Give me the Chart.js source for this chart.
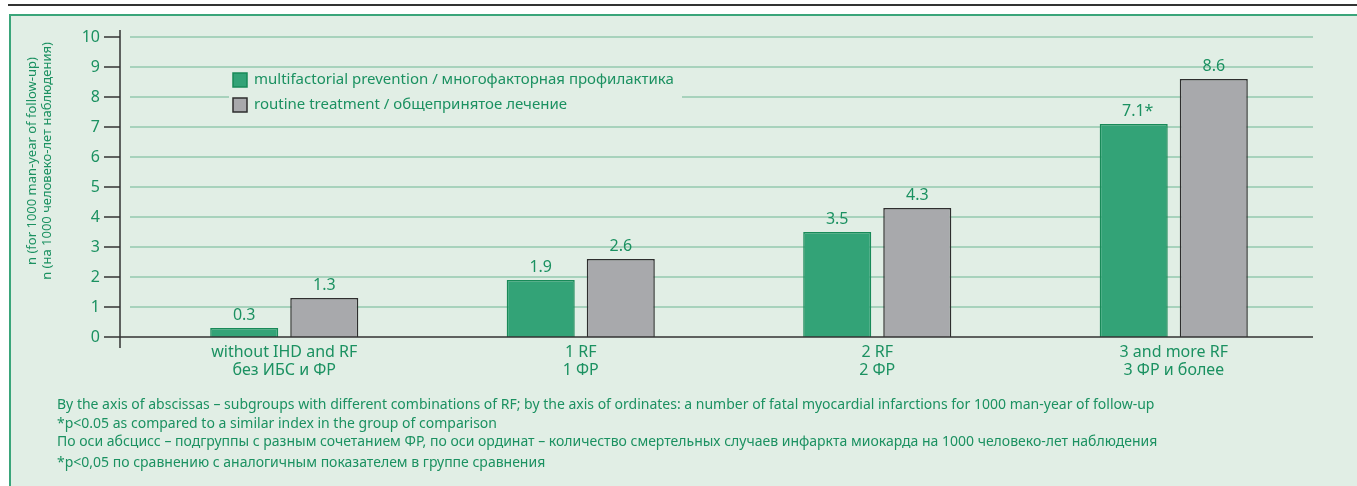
<!DOCTYPE html>
<html>
<head>
<meta charset="utf-8">
<style>
body { margin:0; width:1357px; height:486px; overflow:hidden; background:#fff; font-family:'Noto Sans', sans-serif; }
.topline { position:absolute; left:8px; top:4px; width:1349px; height:2px; background:#333; }
.panel { position:absolute; left:9px; top:14px; width:1360px; height:480px; background:#e1eee5; border-left:2px solid #3aa57a; border-top:2px solid #3aa57a; }
.chart-container { position:absolute; left:0; top:0; width:1357px; height:486px; }
.note { position:absolute; left:57px; color:#1b9161; font-size:14px; line-height:18px; white-space:nowrap; }
</style>
</head>
<body>
<div class="topline"></div>
<div class="panel"></div>
<div class="chart-container">
  <canvas id="myChart" width="1357" height="486"></canvas>
</div>
<div class="note" style="top:395px">By the axis of abscissas – subgroups with different combinations of RF; by the axis of ordinates: a number of fatal myocardial infarctions for 1000 man-year of follow-up</div>
<div class="note" style="top:414px">*p&lt;0.05 as compared to a similar index in the group of comparison</div>
<div class="note" style="top:432px">По оси абсцисс – подгруппы с разным сочетанием ФР, по оси ординат – количество смертельных случаев инфаркта миокарда на 1000 человеко-лет наблюдения</div>
<div class="note" style="top:453px">*p&lt;0,05 по сравнению с аналогичным показателем в группе сравнения</div>

<script src="https://cdn.jsdelivr.net/npm/chart.js@4.4.1/dist/chart.umd.min.js"></script>
<script>
/* datas */
const categories = [
  ['without IHD and RF', 'без ИБС и ФР'],
  ['1 RF', '1 ФР'],
  ['2 RF', '2 ФР'],
  ['3 and more RF', '3 ФР и более']
];
const seriesNames = ['multifactorial prevention / многофакторная профилактика', 'routine treatment / общепринятое лечение'];
const preventionValues = [0.3, 1.9, 3.5, 7.1];
const routineValues = [1.3, 2.6, 4.3, 8.6];
const preventionMarks = ['', '', '', '*'];
const routineMarks = ['', '', '', ''];
const yTitle = ['n (for 1000 man-year of follow-up)', 'n (на 1000 человеко-лет наблюдения)'];
const yMin = 0, yMax = 10, yStep = 1;

const textGreen = '#1b9161';
const gridGreen = '#93c9ae';
const panelBg = '#e1eee5';
const axisColor = '#333333';
const fontFamily = "'Noto Sans', sans-serif";

/* gridlines, axes, legend, value labels */
const decor = {
  id: 'decor',
  beforeDatasetsDraw(chart) {
    const { ctx, scales: { y } } = chart;
    ctx.save();
    ctx.strokeStyle = gridGreen;
    ctx.lineWidth = 1.5;
    for (let v = yMin + yStep; v <= yMax; v += yStep) {
      const py = y.getPixelForValue(v);
      ctx.beginPath();
      ctx.moveTo(130, py);
      ctx.lineTo(1313, py);
      ctx.stroke();
    }
    ctx.restore();
  },
  afterDatasetsDraw(chart) {
    const { ctx, scales: { y } } = chart;
    ctx.save();
    // axes
    ctx.strokeStyle = axisColor;
    ctx.lineWidth = 1.5;
    const y0 = y.getPixelForValue(0);
    ctx.beginPath();
    ctx.moveTo(120, y.getPixelForValue(yMax) - 7);
    ctx.lineTo(120, y0 + 11);
    ctx.moveTo(120, y0);
    ctx.lineTo(1313, y0);
    for (let v = yMin; v <= yMax; v += yStep) {
      const py = y.getPixelForValue(v);
      ctx.moveTo(104, py);
      ctx.lineTo(120, py);
    }
    ctx.stroke();

    // value labels above bars
    ctx.fillStyle = textGreen;
    ctx.font = '16px ' + fontFamily;
    ctx.textAlign = 'center';
    ctx.textBaseline = 'middle';
    const marks = [preventionMarks, routineMarks];
    chart.data.datasets.forEach((ds, di) => {
      chart.getDatasetMeta(di).data.forEach((bar, i) => {
        ctx.fillText(ds.data[i].toFixed(1) + marks[di][i], bar.x + (marks[di][i] ? 4 : 0), bar.y - 13);
      });
    });

    // legend
    ctx.fillStyle = panelBg;
    ctx.fillRect(229, 72, 453, 42);
    ctx.font = '15px ' + fontFamily;
    ctx.textAlign = 'left';
    chart.data.datasets.forEach((ds, di) => {
      const ty = 80 + di * 25;
      ctx.fillStyle = ds.backgroundColor;
      ctx.fillRect(233, ty - 7, 14, 14);
      ctx.strokeStyle = ds.borderColor;
      ctx.lineWidth = 1.5;
      ctx.strokeRect(233, ty - 7, 14, 14);
      ctx.fillStyle = textGreen;
      ctx.fillText(ds.label, 254, ty);
    });

    // y title
    ctx.font = '13px ' + fontFamily;
    ctx.translate(0, 161);
    ctx.rotate(-Math.PI / 2);
    ctx.textAlign = 'center';
    ctx.fillText(yTitle[0], 0, 32);
    ctx.fillText(yTitle[1], 0, 47);
    ctx.restore();
  }
};

const myChart = new Chart('myChart', {
  type: 'bar',
  data: {
    labels: categories,
    datasets: [
      {
        label: seriesNames[0],
        data: preventionValues,
        backgroundColor: '#33a377',
        borderColor: '#188a58',
        borderWidth: 1.5,
        categoryPercentage: 0.54,
        barPercentage: 0.85
      },
      {
        label: seriesNames[1],
        data: routineValues,
        backgroundColor: '#a8a9ac',
        borderColor: '#2e2e2e',
        borderWidth: 1.5,
        categoryPercentage: 0.54,
        barPercentage: 0.85
      }
    ]
  },
  options: {
    responsive: false,
    animation: false,
    layout: { padding: { top: 37, right: 35, left: 0, bottom: 0 } },
    plugins: { legend: { display: false }, tooltip: { enabled: false } },
    scales: {
      x: {
        grid: { display: false, drawTicks: false },
        border: { display: false },
        ticks: { color: textGreen, font: { family: fontFamily, size: 16, lineHeight: 1.1 }, padding: 7, maxRotation: 0 },
        afterFit: (scale) => { scale.height = 149; }
      },
      y: {
        min: yMin,
        max: yMax,
        grid: { display: false, drawTicks: true, tickLength: 32 },
        border: { display: false },
        ticks: { stepSize: yStep, color: textGreen, font: { family: fontFamily, size: 16 }, padding: 4 },
        afterFit: (scale) => { scale.width = 136; }
      }
    }
  },
  plugins: [decor]
});
</script>
</body>
</html>
